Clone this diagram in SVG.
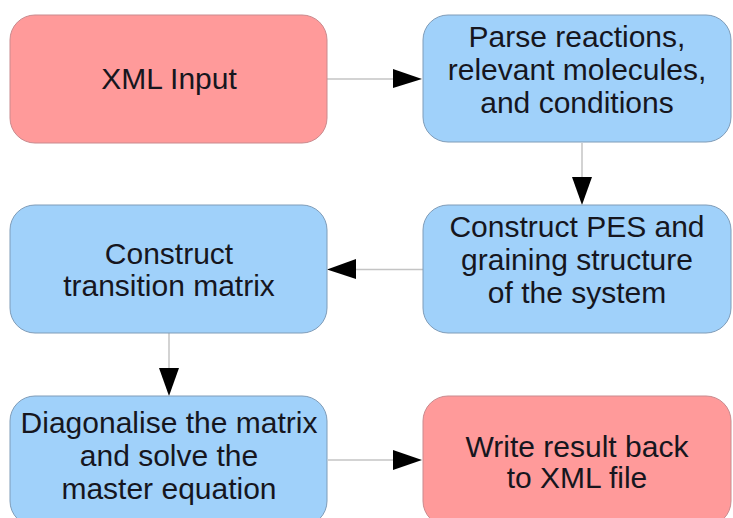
<svg xmlns="http://www.w3.org/2000/svg" width="733" height="518" viewBox="0 0 733 518">
  <defs>
    <style>
      .box { stroke-width: 1; }
      .pink { fill: #ff9a9a; stroke: #c98a8e; }
      .blue { fill: #a0d1fa; stroke: #7f9cb8; }
      .label { font-family: "Liberation Sans", Arial, sans-serif; font-size: 30px; fill: #16161e; text-anchor: middle; }
      .wire { stroke: #c4c4c4; stroke-width: 1.5; fill: none; }
      .head { fill: #000; }
    </style>
  </defs>

  <rect width="733" height="518" fill="#ffffff"/>

  <g id="connectors">
    <!-- XML Input -> Parse -->
    <line class="wire" x1="327" y1="79" x2="395" y2="79"/>
    <polygon class="head" points="393,69 422,79 393,88"/>
    <!-- Parse -> PES -->
    <line class="wire" x1="582" y1="143" x2="582" y2="179"/>
    <polygon class="head" points="572,177 592,177 582,205"/>
    <!-- PES -> transition matrix -->
    <line class="wire" x1="423" y1="269.5" x2="354" y2="269.5"/>
    <polygon class="head" points="356,259 327,269.5 356,279"/>
    <!-- transition matrix -> Diagonalise -->
    <line class="wire" x1="169" y1="333" x2="169" y2="370"/>
    <polygon class="head" points="159,368 179,368 169,396"/>
    <!-- Diagonalise -> Write -->
    <line class="wire" x1="328" y1="460" x2="395" y2="460"/>
    <polygon class="head" points="393,450 422,460 393,470"/>
  </g>

  <g id="xml-input">
    <rect class="box pink" x="10" y="15" width="317" height="128" rx="25"/>
    <text class="label" x="169" y="89">XML Input</text>
  </g>

  <g id="parse">
    <rect class="box blue" x="423" y="15" width="308" height="127" rx="25"/>
    <text class="label" x="577" y="47">Parse reactions,</text>
    <text class="label" x="577" y="80">relevant molecules,</text>
    <text class="label" x="577" y="113">and conditions</text>
  </g>

  <g id="construct-pes">
    <rect class="box blue" x="423" y="205" width="308" height="128" rx="25"/>
    <text class="label" x="577" y="237">Construct PES and</text>
    <text class="label" x="577" y="270">graining structure</text>
    <text class="label" x="577" y="303">of the system</text>
  </g>

  <g id="transition-matrix">
    <rect class="box blue" x="10" y="205" width="317" height="128" rx="25"/>
    <text class="label" x="169" y="264">Construct</text>
    <text class="label" x="169" y="296">transition matrix</text>
  </g>

  <g id="diagonalise">
    <rect class="box blue" x="10" y="396" width="317" height="130" rx="25"/>
    <text class="label" x="169" y="433">Diagonalise the matrix</text>
    <text class="label" x="169" y="466">and solve the</text>
    <text class="label" x="169" y="499">master equation</text>
  </g>

  <g id="write-result">
    <rect class="box pink" x="423" y="396" width="308" height="130" rx="25"/>
    <text class="label" x="577" y="457">Write result back</text>
    <text class="label" x="577" y="488">to XML file</text>
  </g>
</svg>
